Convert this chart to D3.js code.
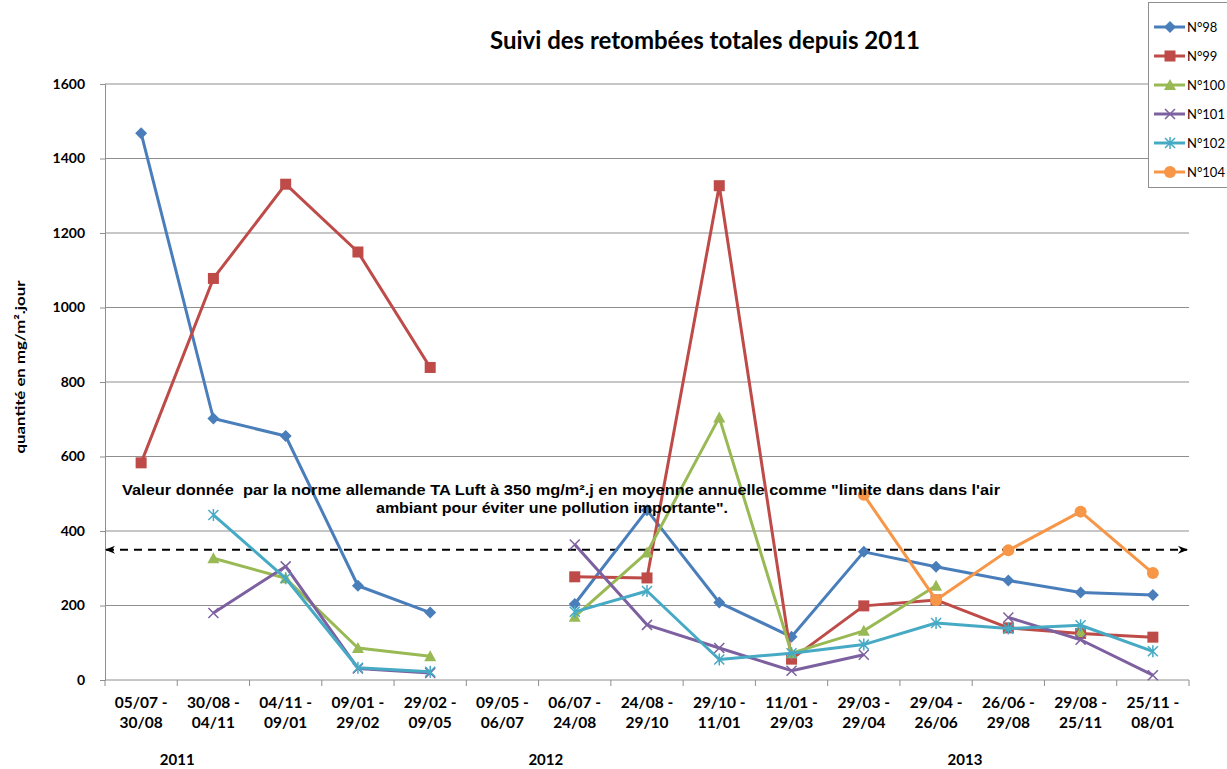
<!DOCTYPE html>
<html>
<head>
<meta charset="utf-8">
<script src="https://cdn.jsdelivr.net/npm/d3@7"></script>
<style>
  body { margin: 0; background: #fff; }
  svg { display: block; }
</style>
</head>
<body>
<div id="chart"></div>
<script>
"use strict";

// periods (start - end)
var periods = ["05/07 - 30/08", "30/08 - 04/11", "04/11 - 09/01", "09/01 - 29/02", "29/02 - 09/05",
	"09/05 - 06/07", "06/07 - 24/08", "24/08 - 29/10", "29/10 - 11/01", "11/01 - 29/03",
	"29/03 - 29/04", "29/04 - 26/06", "26/06 - 29/08", "29/08 - 25/11", "25/11 - 08/01"];

var years = ["2011", "2012", "2013"];
var yearPos = [0.5, 5.6, 11.4];   // category index where each year label sits

var n98  = [1468, 702, 655, 253, 181, null, 204, 456, 208, 116, 344, 304, 267, 235, 228];
var n99  = [583, 1078, 1331, 1149, 839, null, 277, 274, 1327, 56, 199, 215, 140, 125, 115];
var n100 = [null, 327, 273, 86, 64, null, 170, 342, 705, 72, 132, 253, null, 129, null];
var n101 = [null, 180, 305, 31, 19, null, 364, 148, 86, 25, 68, null, 168, 108, 13];
var n102 = [null, 443, 273, 33, 22, null, 183, 239, 55, 72, 95, 153, 138, 147, 77];
var n104 = [null, null, null, null, null, null, null, null, null, null, 497, 215, 348, 452, 287];

var seriesNames = ["N°98", "N°99", "N°100", "N°101", "N°102", "N°104"];
var seriesValues = [n98, n99, n100, n101, n102, n104];
var seriesColors = ["#4a7ebb", "#be4b48", "#98b954", "#7d60a0", "#46aac5", "#f79646"];
var seriesMarkers = ["diamond", "square", "triangle", "x", "star", "circle"];

var yTicks = [0, 200, 400, 600, 800, 1000, 1200, 1400, 1600];
var limitValue = 350;

var title = "Suivi des retombées totales depuis 2011";
var yLabel = "quantité en mg/m².jour";
var noteLines = ["Valeur donnée  par la norme allemande TA Luft à 350 mg/m².j en moyenne annuelle comme \"limite dans dans l'air",
	"ambiant pour éviter une pollution importante\"."];

//
// Setup
//
var W = 1227, H = 769;
var margin = { left: 105, right: 38, top: 84, bottom: 89 };
var plotRight = W - margin.right;
var plotBottom = H - margin.bottom;

var x = d3.scaleBand().domain(d3.range(periods.length)).range([margin.left, plotRight]);
var y = d3.scaleLinear().domain([0, 1600]).range([plotBottom, margin.top]);
var cx = function(i) { return x(i) + x.bandwidth() / 2; };

var svg = d3.select("#chart").append("svg")
	.attr("width", W)
	.attr("height", H)
	.attr("font-family", "Lato, 'Liberation Sans', sans-serif");

//
// Title
//
svg.append("text")
	.attr("x", 705).attr("y", 49)
	.attr("text-anchor", "middle")
	.attr("font-size", 24).attr("font-weight", "bold")
	.text(title);

//
// Grid + Y axis
//
svg.append("g").selectAll("line")
	.data(yTicks.filter(function(d) { return d > 0; }))
	.enter().append("line")
	.attr("x1", margin.left).attr("x2", plotRight)
	.attr("y1", function(d) { return y(d); }).attr("y2", function(d) { return y(d); })
	.attr("stroke", "#8e8e8e").attr("stroke-width", 1);

var yAxis = d3.axisLeft(y).tickValues(yTicks).tickFormat(d3.format("d")).tickSize(5).tickPadding(15);
svg.append("g")
	.attr("transform", "translate(" + margin.left + ",0)")
	.call(yAxis)
	.call(function(g) {
		g.select(".domain").attr("stroke", "#8e8e8e");
		g.selectAll(".tick line").attr("stroke", "#8e8e8e");
		g.selectAll("text").attr("font-size", 14).attr("font-weight", "bold")
			.attr("font-family", "Lato, sans-serif").attr("fill", "#000");
	});

svg.append("text")
	.attr("transform", "translate(25,367) rotate(-90)")
	.attr("text-anchor", "middle")
	.attr("font-size", 14).attr("font-weight", "bold")
	.attr("textLength", 173).attr("lengthAdjust", "spacingAndGlyphs")
	.text(yLabel);

//
// X axis
//
svg.append("line")
	.attr("x1", margin.left).attr("x2", plotRight)
	.attr("y1", plotBottom).attr("y2", plotBottom)
	.attr("stroke", "#8e8e8e");

svg.append("g").selectAll("line")
	.data(d3.range(periods.length + 1))
	.enter().append("line")
	.attr("x1", function(i) { return margin.left + i * x.bandwidth(); })
	.attr("x2", function(i) { return margin.left + i * x.bandwidth(); })
	.attr("y1", plotBottom).attr("y2", plotBottom + 6)
	.attr("stroke", "#8e8e8e");

var xl = svg.append("g").selectAll("text")
	.data(periods)
	.enter().append("text")
	.attr("text-anchor", "middle")
	.attr("font-size", 15.5).attr("font-weight", "bold");
xl.append("tspan")
	.attr("x", function(d, i) { return cx(i); }).attr("y", 708)
	.text(function(d) { return d.split(" - ")[0] + " -"; });
xl.append("tspan")
	.attr("x", function(d, i) { return cx(i); }).attr("y", 728)
	.text(function(d) { return d.split(" - ")[1]; });

svg.append("g").selectAll("text")
	.data(years)
	.enter().append("text")
	.attr("x", function(d, i) { return margin.left + (yearPos[i] + 0.5) * x.bandwidth(); })
	.attr("y", 765)
	.attr("text-anchor", "middle")
	.attr("font-size", 15).attr("font-weight", "bold")
	.text(function(d) { return d; });

//
// Limit line (350) with arrows
//
var defs = svg.append("defs");
defs.append("marker")
	.attr("id", "arr").attr("viewBox", "0 0 10 10")
	.attr("refX", 9).attr("refY", 5)
	.attr("markerWidth", 5).attr("markerHeight", 5)
	.attr("orient", "auto-start-reverse")
	.append("path").attr("d", "M0,1 L10,5 L0,9 L3,5 Z").attr("fill", "#000");

svg.append("line")
	.attr("x1", margin.left + 1).attr("x2", plotRight - 2)
	.attr("y1", y(limitValue)).attr("y2", y(limitValue))
	.attr("stroke", "#000").attr("stroke-width", 2)
	.attr("stroke-dasharray", "8,6")
	.attr("marker-start", "url(#arr)")
	.attr("marker-end", "url(#arr)");

//
// Series lines
//
var line = d3.line()
	.defined(function(d) { return d != null; })
	.x(function(d, i) { return cx(i); })
	.y(function(d) { return y(d); });

function drawMarker(g, type, color) {
	if (type === "diamond") {
		g.append("path").attr("d", "M0,-6 L6,0 L0,6 L-6,0 Z").attr("fill", color);
	} else if (type === "square") {
		g.append("rect").attr("x", -5.5).attr("y", -5.5).attr("width", 11).attr("height", 11).attr("fill", color);
	} else if (type === "triangle") {
		g.append("path").attr("d", "M0,-6 L6,5 L-6,5 Z").attr("fill", color);
	} else if (type === "circle") {
		g.append("circle").attr("r", 6).attr("fill", color);
	} else if (type === "x") {
		g.append("path").attr("d", "M-5,-5 L5,5 M-5,5 L5,-5").attr("stroke", color).attr("stroke-width", 1.5);
	} else if (type === "star") {
		g.append("path").attr("d", "M-5,-5 L5,5 M-5,5 L5,-5 M0,-6 L0,6").attr("stroke", color).attr("stroke-width", 1.5);
	}
}

seriesValues.forEach(function(vals, s) {
	var g = svg.append("g").attr("class", "series");
	g.append("path")
		.datum(vals)
		.attr("d", line)
		.attr("fill", "none")
		.attr("stroke", seriesColors[s])
		.attr("stroke-width", 3)
		.attr("stroke-linejoin", "round");
	vals.forEach(function(v, i) {
		if (v == null) return;
		var m = g.append("g").attr("transform", "translate(" + cx(i) + "," + y(v) + ")");
		drawMarker(m, seriesMarkers[s], seriesColors[s]);
	});
});

//
// Annotation
//
svg.append("text")
	.attr("x", 561).attr("y", 495)
	.attr("text-anchor", "middle")
	.attr("font-family", "'Liberation Sans', Arial, sans-serif")
	.attr("font-size", 14).attr("font-weight", "bold")
	.attr("textLength", 878).attr("lengthAdjust", "spacingAndGlyphs")
	.attr("xml:space", "preserve")
	.text(noteLines[0]);
svg.append("text")
	.attr("x", 552).attr("y", 513)
	.attr("text-anchor", "middle")
	.attr("font-family", "'Liberation Sans', Arial, sans-serif")
	.attr("font-size", 14).attr("font-weight", "bold")
	.attr("textLength", 352).attr("lengthAdjust", "spacingAndGlyphs")
	.text(noteLines[1]);

//
// Legend (kept inside the page width)
//
var legend = svg.append("g");
legend.append("rect")
	.attr("x", 1148.5).attr("y", 2.5).attr("width", 100).attr("height", 185)
	.attr("fill", "#fff").attr("stroke", "#8e8e8e");

seriesNames.forEach(function(name, s) {
	var ly = 27 + s * 29;
	var lg = legend.append("g");
	lg.append("line")
		.attr("x1", 1154).attr("x2", 1185).attr("y1", ly).attr("y2", ly)
		.attr("stroke", seriesColors[s]).attr("stroke-width", 3);
	drawMarker(lg.append("g").attr("transform", "translate(1170," + ly + ")"), seriesMarkers[s], seriesColors[s]);
	lg.append("text")
		.attr("x", 1187).attr("y", ly + 5)
		.attr("font-size", 13)
		.text(name);
});
</script>
</body>
</html>
